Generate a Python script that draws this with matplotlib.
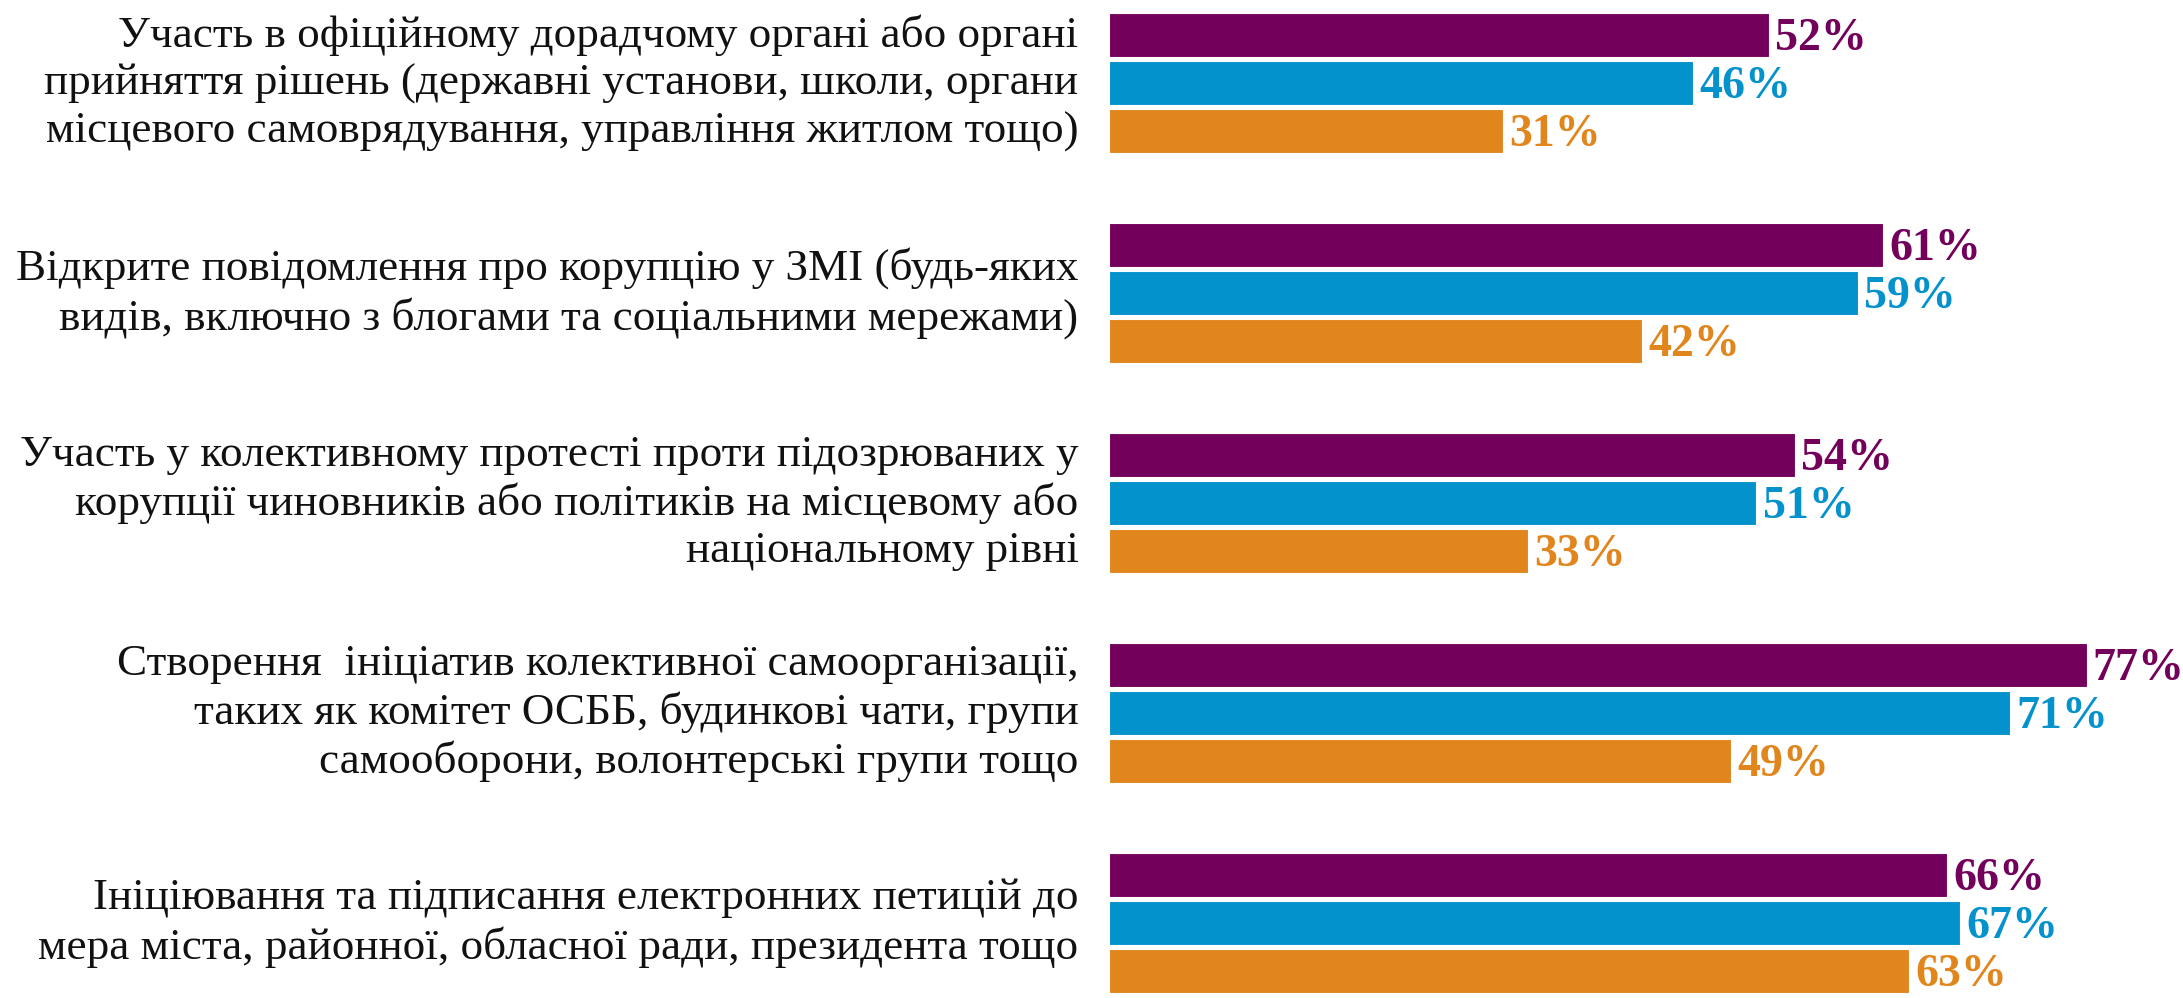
import numpy as np
import matplotlib
matplotlib.use("Agg")
import matplotlib.pyplot as plt

categories = [
    "Участь в офіційному дорадчому органі або органі\n"
    "прийняття рішень (державні установи, школи, органи\n"
    "місцевого самоврядування, управління житлом тощо)",
    "Відкрите повідомлення про корупцію у ЗМІ (будь-яких\n"
    "видів, включно з блогами та соціальними мережами)",
    "Участь у колективному протесті проти підозрюваних у\n"
    "корупції чиновників або політиків на місцевому або\n"
    "національному рівні",
    "Створення  ініціатив колективної самоорганізації,\n"
    "таких як комітет ОСББ, будинкові чати, групи\n"
    "самооборони, волонтерські групи тощо",
    "Ініціювання та підписання електронних петицій до\n"
    "мера міста, районної, обласної ради, президента тощо",
]
series_1 = [52, 61, 54, 77, 66]
series_2 = [46, 59, 51, 71, 67]
series_3 = [31, 42, 33, 49, 63]
colors = ["#73005A", "#0392CB", "#E0861D"]

fig = plt.figure(figsize=(21.83, 9.98), dpi=100)
ax = fig.add_axes([0.508, 0.0, 0.492, 1.0])

y = np.arange(len(categories))
offset = 0.2286
height = 0.2095
for k, (vals, col) in enumerate(zip([series_1, series_2, series_3], colors)):
    pos = y + (k - 1) * offset
    ax.barh(pos, vals, height=height, color=col, edgecolor="white", linewidth=0.8)
    for p, v in zip(pos, vals):
        ax.text(v + 0.5, p + 0.02, f"{v}%", ha="left", va="center",
                fontsize=33, fontweight="bold", color=col,
                family="Liberation Serif", clip_on=False)

for i, label in enumerate(categories):
    ax.text(-2.4, i, label, ha="right", va="center", fontsize=32.5,
            color="#111111", family="Liberation Serif",
            linespacing=1.24, multialignment="right", clip_on=False)

ax.set_xlim(0, 84.6)
ax.set_ylim(4.357, -0.395)
ax.axis("off")

fig.savefig("out.png", dpi=100)
